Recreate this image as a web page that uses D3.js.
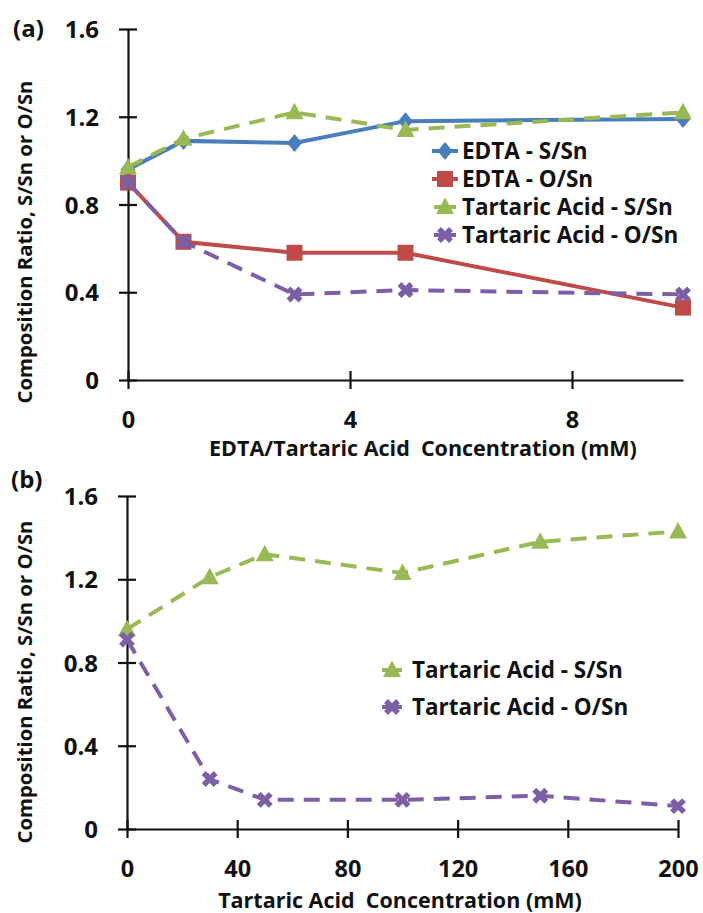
<!DOCTYPE html>
<html>
<head>
<meta charset="utf-8">
<script src="https://cdn.jsdelivr.net/npm/d3@7"></script>
<style>
  html, body { margin: 0; padding: 0; background: #fff; }
  svg { display: block; }
  text { font-family: "Open Sans", "DejaVu Sans", sans-serif; font-weight: bold; fill: #111; }
</style>
</head>
<body>
<svg id="chart" width="703" height="913"></svg>
<script>
// Panel (a): EDTA vs tartaric acid, concentration 0-10 mM
const concA = [0, 1, 3, 5, 10];
const edtaS = [0.96, 1.09, 1.08, 1.18, 1.19];
const edtaO = [0.90, 0.63, 0.58, 0.58, 0.33];
const tartSA = [0.97, 1.10, 1.22, 1.14, 1.22];
const tartOA = [0.90, 0.63, 0.39, 0.41, 0.39];

// Panel (b): tartaric acid, concentration 0-200 mM
const concB = [0, 30, 50, 100, 150, 200];
const tartSB = [0.96, 1.21, 1.32, 1.23, 1.38, 1.43];
const tartOB = [0.91, 0.24, 0.14, 0.14, 0.16, 0.11];

const yTicks = [0, 0.4, 0.8, 1.2, 1.6];
const xTicksA = [0, 4, 8];
const xTicksB = [0, 40, 80, 120, 160, 200];

const yTitle = "Composition Ratio, S/Sn or O/Sn";
const xTitleA = "EDTA/Tartaric Acid\u00a0\u00a0Concentration (mM)";
const xTitleB = "Tartaric Acid\u00a0\u00a0Concentration (mM)";

const BLUE = "#4A7EBB", RED = "#BE4B48", GREEN = "#98B954", PURPLE = "#7D5FA6";

const svg = d3.select("#chart");

const markerPaths = {
  diamond: "M0,-9L7.5,0L0,9L-7.5,0Z",
  square: "M-8,-8H8V8H-8Z",
  triangle: "M0,-9.5L9,7L-9,7Z",
};

function drawMarker(g, kind, color) {
  if (kind === "x") {
    g.append("path")
      .attr("d", "M-6,-6L6,6M-6,6L6,-6")
      .attr("stroke", color).attr("stroke-width", 5.5).attr("fill", "none");
  } else {
    g.append("path").attr("d", markerPaths[kind]).attr("fill", color);
  }
}

function yFmt(d) { return d === 0 ? "0" : d3.format(".1f")(d); }

function panel(opts) {
  const { xs, series, xDomain, xRange, yRange, xTicks, xLabelY, xTitle, xTitleX, xTitleY,
          yTitleX, yTitleY, tag, tagX, tagY, legend } = opts;
  const x = d3.scaleLinear().domain(xDomain).range(xRange);
  const y = d3.scaleLinear().domain([0, 1.6]).range(yRange);
  const g = svg.append("g");

  // y axis, ticks crossing the axis line
  const yAxis = g.append("g")
    .attr("transform", `translate(${xRange[0]},0)`)
    .call(d3.axisLeft(y).tickValues(yTicks).tickFormat(yFmt).tickSizeInner(9).tickSizeOuter(0).tickPadding(20));
  yAxis.select(".domain").attr("stroke", "#111").attr("stroke-width", 2.2);
  yAxis.selectAll(".tick line").attr("stroke", "#111").attr("stroke-width", 2.2).attr("x2", 9).attr("x1", -9);
  yAxis.selectAll(".tick text").style("font-size", "24px").attr("fill", "#111").attr("dy", "0.36em");

  // x axis
  const xAxis = g.append("g")
    .attr("transform", `translate(0,${yRange[0]})`)
    .call(d3.axisBottom(x).tickValues(xTicks).tickFormat(d3.format("d")).tickSizeInner(9).tickSizeOuter(0).tickPadding(0));
  xAxis.select(".domain").attr("stroke", "#111").attr("stroke-width", 2.2);
  xAxis.selectAll(".tick line").attr("stroke", "#111").attr("stroke-width", 2.2).attr("y1", -9).attr("y2", 9);
  xAxis.selectAll(".tick text").style("font-size", "23.5px").attr("fill", "#111")
    .attr("y", xLabelY - yRange[0]).attr("dy", 0);

  // axis titles and panel tag
  g.append("text").attr("x", xTitleX).attr("y", xTitleY).attr("text-anchor", "middle")
    .style("font-size", "21.5px").text(xTitle);
  g.append("text").attr("transform", `translate(${yTitleX},${yTitleY}) rotate(-90)`)
    .attr("text-anchor", "middle").style("font-size", "20.3px").text(yTitle);
  g.append("text").attr("x", tagX).attr("y", tagY).style("font-size", "24px").text(tag);

  // series lines with markers
  const line = d3.line();
  series.forEach(s => {
    const pts = xs.map((xv, i) => [x(xv), y(s.values[i])]);
    g.append("path").attr("d", line(pts)).attr("fill", "none")
      .attr("stroke", s.color).attr("stroke-width", 4)
      .attr("stroke-dasharray", s.dashed ? "16,10" : null);
    pts.forEach(p => {
      const m = g.append("g").attr("transform", `translate(${p[0]},${p[1]})`);
      drawMarker(m, s.marker, s.color);
    });
  });

  // legend
  series.forEach((s, i) => {
    const ly = legend.y + i * legend.step;
    const half = s.dashed ? legend.dashHalf : 13;
    g.append("line").attr("x1", legend.x - half).attr("x2", legend.x + half)
      .attr("y1", ly).attr("y2", ly).attr("stroke", s.color).attr("stroke-width", 4);
    const m = g.append("g").attr("transform", `translate(${legend.x},${ly})`);
    drawMarker(m, s.marker, s.color);
    g.append("text").attr("x", legend.x + legend.textOffset).attr("y", ly).attr("dy", "0.36em")
      .style("font-size", "22.5px").text(s.name);
  });
}

panel({
  xs: concA,
  series: [
    { name: "EDTA - S/Sn", values: edtaS, color: BLUE, marker: "diamond", dashed: false },
    { name: "EDTA - O/Sn", values: edtaO, color: RED, marker: "square", dashed: false },
    { name: "Tartaric Acid - S/Sn", values: tartSA, color: GREEN, marker: "triangle", dashed: true },
    { name: "Tartaric Acid - O/Sn", values: tartOA, color: PURPLE, marker: "x", dashed: true },
  ],
  xDomain: [0, 10], xRange: [128, 683], yRange: [380, 29],
  xTicks: xTicksA, xLabelY: 428,
  xTitle: xTitleA, xTitleX: 423, xTitleY: 456,
  yTitleX: 32, yTitleY: 242,
  tag: "(a)", tagX: 13, tagY: 37,
  legend: { x: 445, y: 151, step: 28, textOffset: 17, dashHalf: 11 },
});

panel({
  xs: concB,
  series: [
    { name: "Tartaric Acid - S/Sn", values: tartSB, color: GREEN, marker: "triangle", dashed: true },
    { name: "Tartaric Acid - O/Sn", values: tartOB, color: PURPLE, marker: "x", dashed: true },
  ],
  xDomain: [0, 200], xRange: [127, 678], yRange: [829, 496],
  xTicks: xTicksB, xLabelY: 877,
  xTitle: xTitleB, xTitleX: 400, xTitleY: 908,
  yTitleX: 32, yTitleY: 682,
  tag: "(b)", tagX: 11, tagY: 488,
  legend: { x: 392, y: 670, step: 37, textOffset: 20, dashHalf: 10 },
});
</script>
</body>
</html>
